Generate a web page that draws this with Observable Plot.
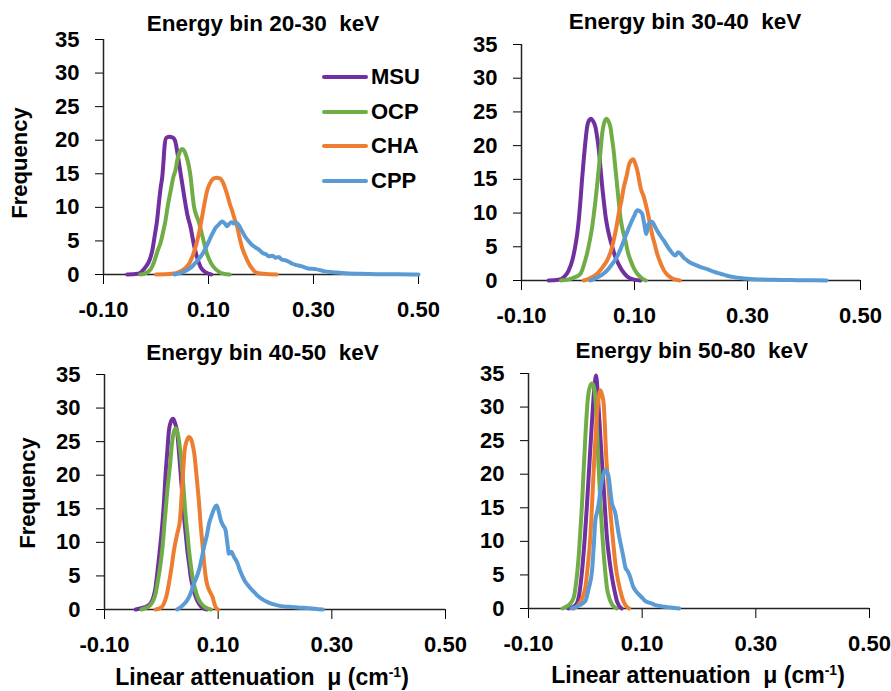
<!DOCTYPE html>
<html>
<head>
<meta charset="utf-8">
<script src="https://cdn.jsdelivr.net/npm/d3@7"></script>
<script src="https://cdn.jsdelivr.net/npm/@observablehq/plot@0.6"></script>
<style>
  html, body { margin: 0; padding: 0; background: #fff; }
  #root { position: relative; width: 891px; height: 691px; background: #fff; overflow: hidden;
          font-family: "Liberation Sans", Arial, sans-serif; font-weight: bold; color: #000; }
  .panel { position: absolute; }
  .panel svg { overflow: visible; background: transparent; }
  .title { position: absolute; font-size: 22.5px; line-height: 22.5px; white-space: pre; transform: translateX(-50%); }
  .ylab { position: absolute; font-size: 22px; line-height: 22px; white-space: pre; transform: translate(-50%, -50%) rotate(-90deg); }
  .xlab { position: absolute; font-size: 23px; line-height: 23px; white-space: pre; transform: translateX(-50%); }
  .xlab sup { font-size: 14px; vertical-align: 8px; line-height: 0; }
  .legend { position: absolute; left: 322px; top: 60px; }
  .legend .row { display: flex; align-items: center; height: 34.6px; }
  .legend .sw { width: 46px; height: 4px; border-radius: 2px; margin-right: 3px; }
  .legend .lb { font-size: 22px; line-height: 22px; }
</style>
</head>
<body>
<div id="root"></div>
<script>
// ---- series names, colours, tick values ----
const seriesNames = ["MSU", "OCP", "CHA", "CPP"];
const seriesColors = ["#7030A0", "#70AD47", "#ED7D31", "#5B9BD5"];
const panelTitles = ["Energy bin 20-30  keV", "Energy bin 30-40  keV", "Energy bin 40-50  keV", "Energy bin 50-80  keV"];
const xTicks = [-0.1, 0.1, 0.3, 0.5];
const yTicks = [0, 5, 10, 15, 20, 25, 30, 35];

// ---- Energy bin 20-30 keV : [mu, frequency] ----
const msu2030 = [[-0.055,0],[-0.035,0.1],[-0.02,1.1],[-0.012,2.2],[-0.007,3.6],[-0.002,6],[0.002,8],[0.006,11],[0.009,13],[0.012,14.6],[0.014,16.5],[0.016,18.8],[0.019,20.3],[0.025,20.5],[0.032,20.4],[0.036,20],[0.040,18.5],[0.045,16],[0.050,13.5],[0.055,11],[0.060,8.8],[0.066,7],[0.072,4.5],[0.078,2.6],[0.085,1.1],[0.095,0.3],[0.105,0]];
const ocp2030 = [[-0.03,0],[-0.02,0.2],[-0.01,0.8],[-0.004,1.8],[0.003,3.5],[0.009,4.8],[0.014,6.5],[0.018,8],[0.023,10.5],[0.028,12.5],[0.033,14.5],[0.037,15.5],[0.041,17.2],[0.046,18.4],[0.050,18.7],[0.054,18.4],[0.059,17.3],[0.063,16],[0.066,14.5],[0.069,12.3],[0.072,10.3],[0.076,9],[0.08,8.2],[0.085,6.8],[0.090,5.2],[0.0975,3],[0.104,1.8],[0.11,1.1],[0.12,0.4],[0.13,0.1],[0.14,0]];
const cha2030 = [[0,0],[0.03,0.1],[0.045,0.4],[0.055,0.9],[0.063,1.6],[0.069,2.6],[0.075,4],[0.08,5.5],[0.086,7.8],[0.091,10],[0.0975,12.5],[0.103,13.6],[0.108,14.2],[0.115,14.4],[0.122,14.3],[0.127,13.8],[0.132,12.8],[0.136,11.8],[0.141,10.4],[0.145,9.5],[0.15,8.2],[0.155,7],[0.16,5.2],[0.164,4],[0.17,2.8],[0.177,1.6],[0.185,0.7],[0.19,0.3],[0.205,0.1],[0.23,0]];
const cpp2030 = [[0.035,0],[0.05,0.3],[0.06,0.7],[0.069,1.2],[0.078,2],[0.088,3],[0.095,4],[0.101,5],[0.107,6],[0.113,6.9],[0.119,7.4],[0.126,7.9],[0.131,7.6],[0.135,7.2],[0.139,7.5],[0.144,7.8],[0.148,7.6],[0.153,7.7],[0.158,7.3],[0.163,6.6],[0.17,5.6],[0.176,5],[0.183,4.4],[0.19,4],[0.196,3.7],[0.203,3.2],[0.21,3],[0.215,2.7],[0.222,2.8],[0.228,2.5],[0.234,2.6],[0.24,2.2],[0.247,2.1],[0.253,1.9],[0.26,1.6],[0.268,1.4],[0.278,1.2],[0.29,0.9],[0.304,0.8],[0.32,0.5],[0.336,0.35],[0.35,0.25],[0.367,0.15],[0.39,0.12],[0.43,0.05],[0.46,0.05],[0.5,0]];

// ---- Energy bin 30-40 keV ----
const msu3040 = [[-0.052,0],[-0.035,0.1],[-0.025,0.5],[-0.017,1.4],[-0.01,3],[-0.005,5],[-0.0014,6.9],[0.002,9.5],[0.0044,11.9],[0.007,14.8],[0.01,17.8],[0.013,20.5],[0.016,22.7],[0.02,23.8],[0.0234,24],[0.027,23.6],[0.031,22.7],[0.034,21.2],[0.037,19.3],[0.04,16.5],[0.043,13.8],[0.046,11.5],[0.049,9.4],[0.053,7.5],[0.0575,5.9],[0.062,4.6],[0.066,3.5],[0.072,2.4],[0.078,1.5],[0.087,0.6],[0.096,0.2],[0.11,0]];
const ocp3040 = [[-0.03,0],[-0.015,0.2],[-0.005,0.5],[0.0044,1],[0.01,2.2],[0.016,4],[0.021,6],[0.025,7.9],[0.028,9.8],[0.031,11.9],[0.034,14.3],[0.037,16.8],[0.04,19.3],[0.0428,21.8],[0.046,23.3],[0.0504,24],[0.054,23.6],[0.0575,22.7],[0.06,21.2],[0.063,19.3],[0.066,16.8],[0.069,14.3],[0.072,11.8],[0.075,9.4],[0.079,7.5],[0.084,5.9],[0.088,4.3],[0.093,3],[0.099,1.8],[0.105,1],[0.112,0.4],[0.12,0]];
const cha3040 = [[0.01,0],[0.02,0.3],[0.034,1],[0.043,1.9],[0.0516,3],[0.058,4.3],[0.063,5.9],[0.068,7.9],[0.072,9.9],[0.077,11.9],[0.081,13.8],[0.086,15.5],[0.09,17.1],[0.094,17.8],[0.0977,18],[0.101,17.4],[0.105,16.3],[0.108,15],[0.1106,13.8],[0.1165,12.4],[0.1225,10.4],[0.127,8.6],[0.131,6.9],[0.136,5.3],[0.14,4],[0.146,2.6],[0.152,1.5],[0.16,0.7],[0.167,0.3],[0.18,0]];
const cpp3040 = [[0.022,0],[0.035,0.5],[0.045,1],[0.0516,1.5],[0.06,2.4],[0.069,3.5],[0.075,4.6],[0.081,5.9],[0.087,7.2],[0.093,8.4],[0.099,9.5],[0.105,10.4],[0.109,10.3],[0.1136,9.9],[0.117,8.5],[0.121,6.9],[0.125,8.4],[0.131,8.7],[0.135,8.2],[0.14,7.4],[0.146,6.6],[0.152,5.9],[0.158,5.1],[0.1637,4.4],[0.1726,3.7],[0.177,4.2],[0.181,4],[0.187,3.4],[0.193,3],[0.2,2.6],[0.211,2.2],[0.22,1.9],[0.2287,1.7],[0.24,1.3],[0.252,1],[0.264,0.7],[0.276,0.5],[0.29,0.35],[0.311,0.2],[0.347,0.1],[0.39,0.05],[0.44,0]];

// ---- Energy bin 40-50 keV ----
const msu4050 = [[-0.045,0],[-0.035,0.2],[-0.025,0.5],[-0.019,0.9],[-0.014,1.8],[-0.01,3.4],[-0.007,5.5],[-0.004,7.8],[-0.001,10.2],[0.0018,12.8],[0.005,16.5],[0.0076,20.3],[0.0105,23.5],[0.0134,26.7],[0.017,28],[0.0205,28.4],[0.024,27.8],[0.0282,26.2],[0.031,23.5],[0.034,20.3],[0.037,17],[0.04,13.8],[0.043,11.2],[0.0458,8.8],[0.049,6.7],[0.0517,4.9],[0.056,3.2],[0.0605,1.9],[0.066,0.9],[0.072,0.3],[0.08,0]];
const ocp4050 = [[-0.035,0],[-0.028,0.2],[-0.02,0.6],[-0.015,1.2],[-0.01,2.4],[-0.006,4.3],[-0.0012,6.9],[0.002,9.2],[0.0046,11.8],[0.0076,14.8],[0.0106,17.8],[0.015,21.2],[0.0194,25.2],[0.0222,26.5],[0.0252,27],[0.028,26.5],[0.031,25.2],[0.034,23],[0.037,20.3],[0.04,17],[0.0429,13.8],[0.046,11.2],[0.0487,8.8],[0.0517,6.7],[0.0547,4.9],[0.059,3.2],[0.0635,1.9],[0.07,0.9],[0.078,0.3],[0.087,0]];
const cha4050 = [[-0.01,0],[0,0.3],[0.0046,0.9],[0.009,2],[0.0134,3.9],[0.018,6.3],[0.0222,8.8],[0.028,11.3],[0.0328,13.3],[0.035,16],[0.037,18.8],[0.039,21.5],[0.041,23.7],[0.045,25.2],[0.0487,25.7],[0.052,25.4],[0.0547,24.7],[0.058,23.2],[0.0605,21.2],[0.0635,18.5],[0.0664,15.8],[0.069,12.8],[0.0723,9.8],[0.075,7.2],[0.078,4.9],[0.081,3.6],[0.084,2.9],[0.087,2.4],[0.09,1.9],[0.093,1],[0.0958,0.3],[0.1,0]];
const cpp4050 = [[0.028,0],[0.036,0.5],[0.0458,1.4],[0.052,2.5],[0.0575,3.9],[0.062,4.8],[0.0664,5.9],[0.071,7.6],[0.075,9.3],[0.08,11],[0.084,12.8],[0.0885,14],[0.0928,15],[0.0975,15.5],[0.101,14.6],[0.1046,13.3],[0.108,12.6],[0.113,11.8],[0.116,10],[0.119,8.3],[0.123,8.6],[0.128,7.8],[0.134,6.9],[0.138,5.9],[0.143,4.9],[0.148,4.1],[0.1545,3.4],[0.162,2.7],[0.169,2.1],[0.178,1.5],[0.187,1.1],[0.198,0.75],[0.21,0.5],[0.225,0.4],[0.24,0.3],[0.26,0.2],[0.284,0]];

// ---- Energy bin 50-80 keV ----
const msu5080 = [[-0.03,0],[-0.02,0.3],[-0.0147,0.8],[-0.01,2.5],[-0.0058,5.6],[-0.001,10.5],[0.003,15.6],[0.0075,22],[0.0118,28],[0.0155,32.5],[0.0189,34.7],[0.0225,31],[0.0265,25.5],[0.0295,21.5],[0.0323,18],[0.035,14.2],[0.038,10.6],[0.0425,7.2],[0.047,4.6],[0.052,2.4],[0.056,1],[0.064,0]];
const ocp5080 = [[-0.04,0],[-0.0353,0.2],[-0.028,0.6],[-0.0206,1.6],[-0.016,4],[-0.0118,7.6],[-0.0088,11.5],[-0.0058,15.6],[-0.003,20.5],[0,25.5],[0.0047,31.5],[0.008,33],[0.0118,33.5],[0.0155,32.8],[0.0176,31.5],[0.0224,23],[0.0265,15.6],[0.0295,11.5],[0.0323,8.1],[0.035,5.5],[0.038,3.1],[0.042,1.6],[0.047,0.6],[0.055,0]];
const cha5080 = [[-0.02,0],[-0.01,0.8],[0,3.1],[0.0045,6.5],[0.0088,10.6],[0.0118,15.5],[0.0147,20.6],[0.0176,25],[0.0206,29],[0.0235,31.5],[0.0265,32.5],[0.0295,31.8],[0.0323,30.5],[0.0345,27],[0.0365,23],[0.041,18],[0.044,14.5],[0.047,11.6],[0.05,9],[0.053,6.6],[0.057,4.4],[0.0617,2.6],[0.066,1.3],[0.0705,0.5],[0.077,0]];
const cpp5080 = [[-0.024,0],[-0.01,0.5],[0,1.1],[0.006,3],[0.0118,5.6],[0.015,9.5],[0.0176,13.1],[0.0205,14.3],[0.0235,15.6],[0.0265,17.5],[0.0294,19.1],[0.0325,20.2],[0.0353,20.6],[0.038,20.3],[0.0411,19.6],[0.044,17.5],[0.047,15.6],[0.05,14.9],[0.053,14.1],[0.056,12.5],[0.0587,11.1],[0.0617,9.8],[0.0647,8.6],[0.0675,7.4],[0.0705,6.1],[0.075,5.5],[0.0793,4.6],[0.082,3.8],[0.085,3.1],[0.088,2.7],[0.094,2.1],[0.1,1.6],[0.1058,1.1],[0.115,0.8],[0.1235,0.5],[0.135,0.3],[0.15,0.15],[0.165,0]];

const panelSeries = [
  [msu2030, ocp2030, cha2030, cpp2030],
  [msu3040, ocp3040, cha3040, cpp3040],
  [msu4050, ocp4050, cha4050, cpp4050],
  [msu5080, ocp5080, cha5080, cpp5080]
];

// ---- layout ----
const layout = [
  {left: 0,   top: 0,   width: 445, height: 340, mL: 103, mR: 27, mT: 39, mB: 66},
  {left: 445, top: 0,   width: 446, height: 340, mL: 76,  mR: 31, mT: 44, mB: 60},
  {left: 0,   top: 340, width: 450, height: 351, mL: 104, mR: 5,  mT: 34, mB: 82},
  {left: 445, top: 340, width: 446, height: 351, mL: 83,  mR: 22, mT: 33, mB: 83}
];
const titlePos = [[263, 12.7], [685, 11], [262.5, 341.7], [691.7, 340.3]];

const root = document.getElementById("root");

layout.forEach((L, i) => {
  const rows = [];
  panelSeries[i].forEach((arr, s) => arr.forEach(([x, y]) => rows.push({x, y, s: seriesNames[s]})));
  const chart = Plot.plot({
    width: L.width, height: L.height,
    marginLeft: L.mL, marginRight: L.mR, marginTop: L.mT, marginBottom: L.mB,
    style: {fontFamily: "'Liberation Sans', Arial, sans-serif", fontSize: "22px", fontWeight: "bold", color: "#000", background: "transparent", overflow: "visible"},
    x: {domain: [-0.1, 0.5], ticks: xTicks, tickFormat: d => d.toFixed(2), tickSize: 10, tickPadding: 17, label: null},
    y: {domain: [0, 35], ticks: yTicks, tickFormat: d => String(d), tickSize: 8, tickPadding: 16, label: null},
    color: {domain: seriesNames, range: seriesColors},
    marks: [
      Plot.ruleY([0], {stroke: "#222", strokeWidth: 1.5}),
      Plot.ruleX([-0.1], {stroke: "#222", strokeWidth: 1.5}),
      ...seriesNames.map(name => Plot.line(rows.filter(r => r.s === name), {
        x: "x", y: "y", stroke: "s", strokeWidth: 4, curve: "monotone-x",
        strokeLinejoin: "round", strokeLinecap: "round"
      }))
    ]
  });
  const div = document.createElement("div");
  div.className = "panel";
  div.style.left = L.left + "px";
  div.style.top = L.top + "px";
  div.appendChild(chart);
  root.appendChild(div);

  const t = document.createElement("div");
  t.className = "title";
  t.textContent = panelTitles[i];
  t.style.left = titlePos[i][0] + "px";
  t.style.top = titlePos[i][1] + "px";
  root.appendChild(t);
});

// y-axis labels
[[20, 162.5], [28, 493.3]].forEach(([cx, cy]) => {
  const d = document.createElement("div");
  d.className = "ylab";
  d.textContent = "Frequency";
  d.style.left = cx + "px";
  d.style.top = cy + "px";
  root.appendChild(d);
});

// x-axis labels
[[262, 665.5], [698, 663.8]].forEach(([cx, ty]) => {
  const d = document.createElement("div");
  d.className = "xlab";
  d.innerHTML = "Linear attenuation  \u03bc (cm<sup>-1</sup>)";
  d.style.left = cx + "px";
  d.style.top = ty + "px";
  root.appendChild(d);
});

// legend (first panel)
const lg = document.createElement("div");
lg.className = "legend";
seriesNames.forEach((name, s) => {
  const row = document.createElement("div");
  row.className = "row";
  const sw = document.createElement("div");
  sw.className = "sw";
  sw.style.background = seriesColors[s];
  const lb = document.createElement("span");
  lb.className = "lb";
  lb.textContent = name;
  row.appendChild(sw);
  row.appendChild(lb);
  lg.appendChild(row);
});
root.appendChild(lg);
</script>
</body>
</html>
